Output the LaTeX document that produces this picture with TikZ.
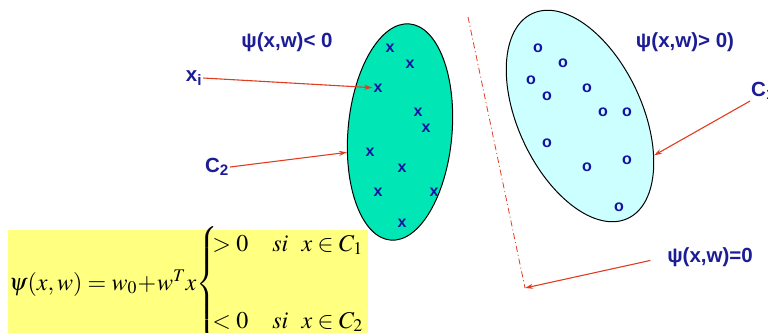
\documentclass[tikz,border=0pt]{standalone}
\usepackage{mathptmx}
\usepackage{fontspec}
\setsansfont{Liberation Sans}
\usetikzlibrary{arrows.meta,shapes.geometric}
\definecolor{labelBlue}{HTML}{1C1C96}
\definecolor{markBlue}{HTML}{1414A0}
\definecolor{arrowRed}{HTML}{E03C20}
\definecolor{clusterGreen}{HTML}{00E6B4}
\definecolor{clusterCyan}{HTML}{CCFFFF}
\definecolor{boxYellow}{HTML}{FFFF80}

\begin{document}
\begin{tikzpicture}[
  x=1pt, y=-1pt,
  >={Stealth[length=8pt,width=5pt]},
  lbl/.style={
    text=labelBlue,
    font=\sffamily\bfseries\fontsize{20.5}{22}\selectfont,
    inner sep=1pt
  },
  ptmark/.style={
    text=markBlue,
    font=\sffamily\bfseries\fontsize{16}{16}\selectfont,
    inner sep=1pt
  },
  redarrow/.style={
    ->,
    draw=arrowRed,
    line width=1.1pt
  },
  clustergreen/.style={
    ellipse,
    draw=black,
    line width=1pt,
    fill=clusterGreen,
    inner sep=0pt,
    minimum width=104pt,
    minimum height=217pt,
    rotate=-5
  },
  clustercyan/.style={
    ellipse,
    draw=black,
    line width=1pt,
    fill=clusterCyan,
    inner sep=0pt,
    minimum width=124pt,
    minimum height=226pt,
    rotate=25
  }
]
  \useasboundingbox (0,0) rectangle (768,332);

  % ----------------------------------------------------
  % CLASS C2: X POINTS
  % ----------------------------------------------------
  \node[clustergreen] (c2_clust) at (400,132) {};

  \node[ptmark] (x1) at (390,48) {x};
  \node[ptmark] (x2) at (410,64) {x};
  \node[ptmark] (x3) at (378,88) {x};
  \node[ptmark] (x4) at (418,112) {x};
  \node[ptmark] (x5) at (426,128) {x};
  \node[ptmark] (x6) at (370,152) {x};
  \node[ptmark] (x7) at (402,168) {x};
  \node[ptmark] (x8) at (378,192) {x};
  \node[ptmark] (x9) at (434,192) {x};
  \node[ptmark] (x10) at (402,223) {x};

  % ----------------------------------------------------
  % CLASS C1: O POINTS
  % ----------------------------------------------------
  \node[clustercyan] (c1_clust) at (580,116) {};

  \node[ptmark] (o1) at (538,48) {o};
  \node[ptmark] (o2) at (563,63) {o};
  \node[ptmark] (o3) at (531,80) {o};
  \node[ptmark] (o4) at (547,96) {o};
  \node[ptmark] (o5) at (587,88) {o};
  \node[ptmark] (o6) at (603,112) {o};
  \node[ptmark] (o7) at (627,112) {o};
  \node[ptmark] (o8) at (547,143) {o};
  \node[ptmark] (o9) at (587,167) {o};
  \node[ptmark] (o10) at (627,160) {o};
  \node[ptmark] (o11) at (619,207) {o};

  % ----------------------------------------------------
  % SEPARATING HYPERPLANE
  % ----------------------------------------------------
  \coordinate (sep_top) at (468,17);
  \coordinate (sep_bot) at (525,288);
  \draw[arrowRed, line width=0.8pt, dash pattern=on 6pt off 3pt on 1pt off 3pt] (sep_top) -- (sep_bot);

  % ----------------------------------------------------
  % LABELS
  % ----------------------------------------------------
  \node[lbl] (l_neg) at (287,42) {ψ(x,w)< 0};
  \node[lbl] (l_pos) at (685,42) {ψ(x,w)> 0)};
  \node[lbl] (l_xi) at (194,78) {x\textsubscript{i}};
  \node[lbl] (l_c2) at (217,167) {C\textsubscript{2}};
  \node[lbl, anchor=west] (l_c1) at (750,91) {C\textsubscript{1}};
  \node[lbl] (l_zero) at (710,257) {ψ(x,w)=0};

  \draw[redarrow] (l_xi.east) -- (x3);
  \draw[redarrow] (l_c2.east) -- (c2_clust.206);
  \draw[redarrow] (l_c1.south west) -- (c1_clust.307);
  \draw[redarrow, shorten <=16pt] (l_zero.west) -- (sep_bot);

  % ----------------------------------------------------
  % DECISION FUNCTION
  % ----------------------------------------------------
  \fill[boxYellow] (8,230) rectangle (368,340);
  \node[anchor=west, inner sep=0pt, font=\fontsize{24}{29}\selectfont] (dec_fn) at (9,284) {%
    $\psi(x,w) = w_0 \!+\! w^T x \!\left\{\begin{array}{@{}l@{}}
      \!\!>0 \quad si \;\;\, x \in C_1 \\[48pt]
      \!\!<0 \quad si \;\;\, x \in C_2
    \end{array}\right.$%
  };

\end{tikzpicture}
\end{document}
